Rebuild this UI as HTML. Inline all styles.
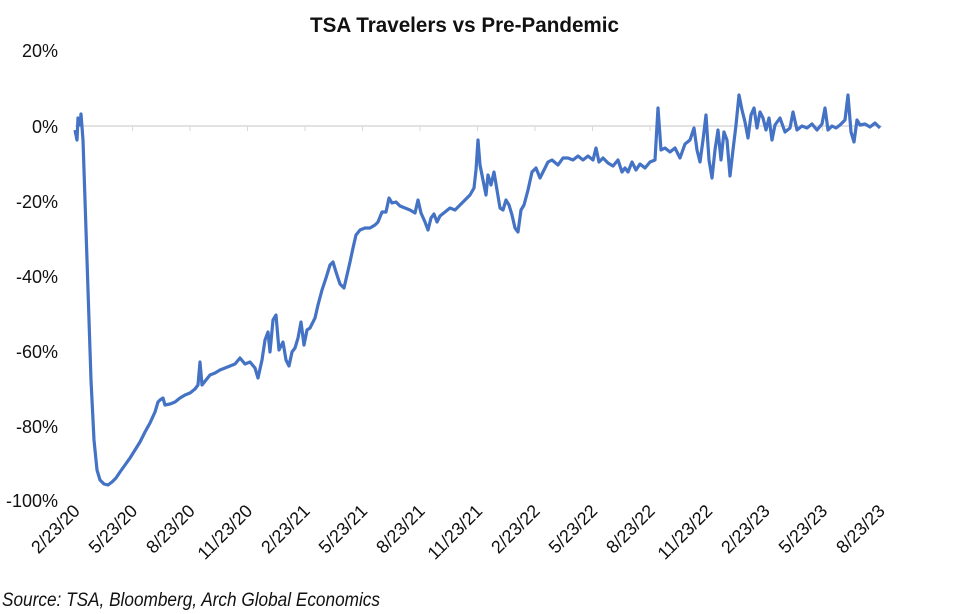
<!DOCTYPE html>
<html><head><meta charset="utf-8"><style>
html,body{margin:0;padding:0;background:#fff;width:959px;height:614px;overflow:hidden}
svg text{font-family:"Liberation Sans Narrow","Liberation Sans",Arial,sans-serif;fill:#111}
</style></head><body>
<svg width="959" height="614" xmlns="http://www.w3.org/2000/svg">
<text x="310" y="32" font-size="21" font-weight="bold" textLength="309" lengthAdjust="spacingAndGlyphs">TSA Travelers vs Pre-Pandemic</text>
<g font-size="18" text-anchor="end">
<text x="58" y="57">20%</text>
<text x="58" y="133">0%</text>
<text x="58" y="208">-20%</text>
<text x="58" y="283">-40%</text>
<text x="58" y="358">-60%</text>
<text x="58" y="433">-80%</text>
<text x="58" y="507">-100%</text>
</g>
<line x1="75" y1="126" x2="882" y2="126" stroke="#d9d9d9" stroke-width="1.5"/>
<g stroke="#d9d9d9" stroke-width="1">
<line x1="132.5" y1="126" x2="132.5" y2="131"/><line x1="190" y1="126" x2="190" y2="131"/><line x1="247.5" y1="126" x2="247.5" y2="131"/><line x1="305" y1="126" x2="305" y2="131"/><line x1="362.5" y1="126" x2="362.5" y2="131"/><line x1="420" y1="126" x2="420" y2="131"/><line x1="477.5" y1="126" x2="477.5" y2="131"/><line x1="535" y1="126" x2="535" y2="131"/><line x1="592.5" y1="126" x2="592.5" y2="131"/><line x1="650" y1="126" x2="650" y2="131"/><line x1="707.5" y1="126" x2="707.5" y2="131"/><line x1="765" y1="126" x2="765" y2="131"/><line x1="822.5" y1="126" x2="822.5" y2="131"/>
</g>
<g font-size="18" text-anchor="end">
<text transform="translate(81,512) rotate(-45)">2/23/20</text>
<text transform="translate(138.5,512) rotate(-45)">5/23/20</text>
<text transform="translate(196,512) rotate(-45)">8/23/20</text>
<text transform="translate(253.5,512) rotate(-45)">11/23/20</text>
<text transform="translate(311,512) rotate(-45)">2/23/21</text>
<text transform="translate(368.5,512) rotate(-45)">5/23/21</text>
<text transform="translate(426,512) rotate(-45)">8/23/21</text>
<text transform="translate(483.5,512) rotate(-45)">11/23/21</text>
<text transform="translate(541,512) rotate(-45)">2/23/22</text>
<text transform="translate(598.5,512) rotate(-45)">5/23/22</text>
<text transform="translate(656,512) rotate(-45)">8/23/22</text>
<text transform="translate(713.5,512) rotate(-45)">11/23/22</text>
<text transform="translate(771,512) rotate(-45)">2/23/23</text>
<text transform="translate(828.5,512) rotate(-45)">5/23/23</text>
<text transform="translate(886,512) rotate(-45)">8/23/23</text>
</g>
<polyline fill="none" stroke="#4472c4" stroke-width="3.2" stroke-linejoin="round" points="75,130 77,140 78,118 80,125 81,114 83,140 85,200 88,290 91,380 94,440 97,470 100,480 104,484 108,485 112,482 116,478 120,472 125,465 130,458 135,450 140,442 145,432 150,423 155,412 158,402 160,400 163,398 165,405 170,404 175,402 180,398 185,395 190,393 195,389 198,385 200,362 202,385 206,380 210,375 215,373 220,370 225,368 230,366 235,364 240,358 245,364 250,362 255,368 258,378 262,360 265,340 268,332 270,352 273,320 276,315 279,350 283,342 286,360 289,366 292,352 295,348 298,338 301,322 304,345 307,330 310,328 315,318 318,305 322,290 326,278 330,265 333,262 336,272 340,284 344,288 347,275 350,262 353,248 356,235 360,230 365,228 370,228 375,225 378,222 382,212 386,212 389,198 392,203 396,202 400,206 405,208 410,210 415,213 418,200 421,213 425,222 428,230 431,218 434,214 437,222 440,216 445,212 450,208 455,210 460,205 465,200 470,195 474,188 476,170 478,140 480,165 483,180 486,195 488,175 491,185 494,172 497,190 500,208 503,210 506,200 509,205 512,215 515,228 518,232 521,210 524,205 528,190 532,172 536,168 540,178 544,170 548,162 552,160 558,165 563,158 568,158 573,160 578,156 583,160 588,156 593,160 596,148 599,162 603,158 608,163 613,166 618,160 622,172 625,168 628,172 632,162 636,170 640,164 645,168 650,162 655,160 658,108 661,150 665,148 670,152 675,148 680,158 685,144 690,140 694,128 697,150 700,162 703,140 706,115 709,160 712,178 715,150 718,130 721,160 724,132 727,140 730,176 733,150 736,125 739,95 742,110 745,122 748,138 751,115 754,108 757,128 760,112 763,118 766,130 769,118 772,140 775,125 780,118 785,132 790,128 793,112 797,130 802,126 807,128 812,124 817,130 822,124 825,108 828,130 832,126 836,128 840,125 845,120 848,95 851,132 854,142 857,120 860,125 865,124 870,127 875,123 880,128"/>
<text x="2" y="606" font-size="19" font-style="italic" textLength="378" lengthAdjust="spacingAndGlyphs">Source: TSA, Bloomberg, Arch Global Economics</text>
</svg>
</body></html>
